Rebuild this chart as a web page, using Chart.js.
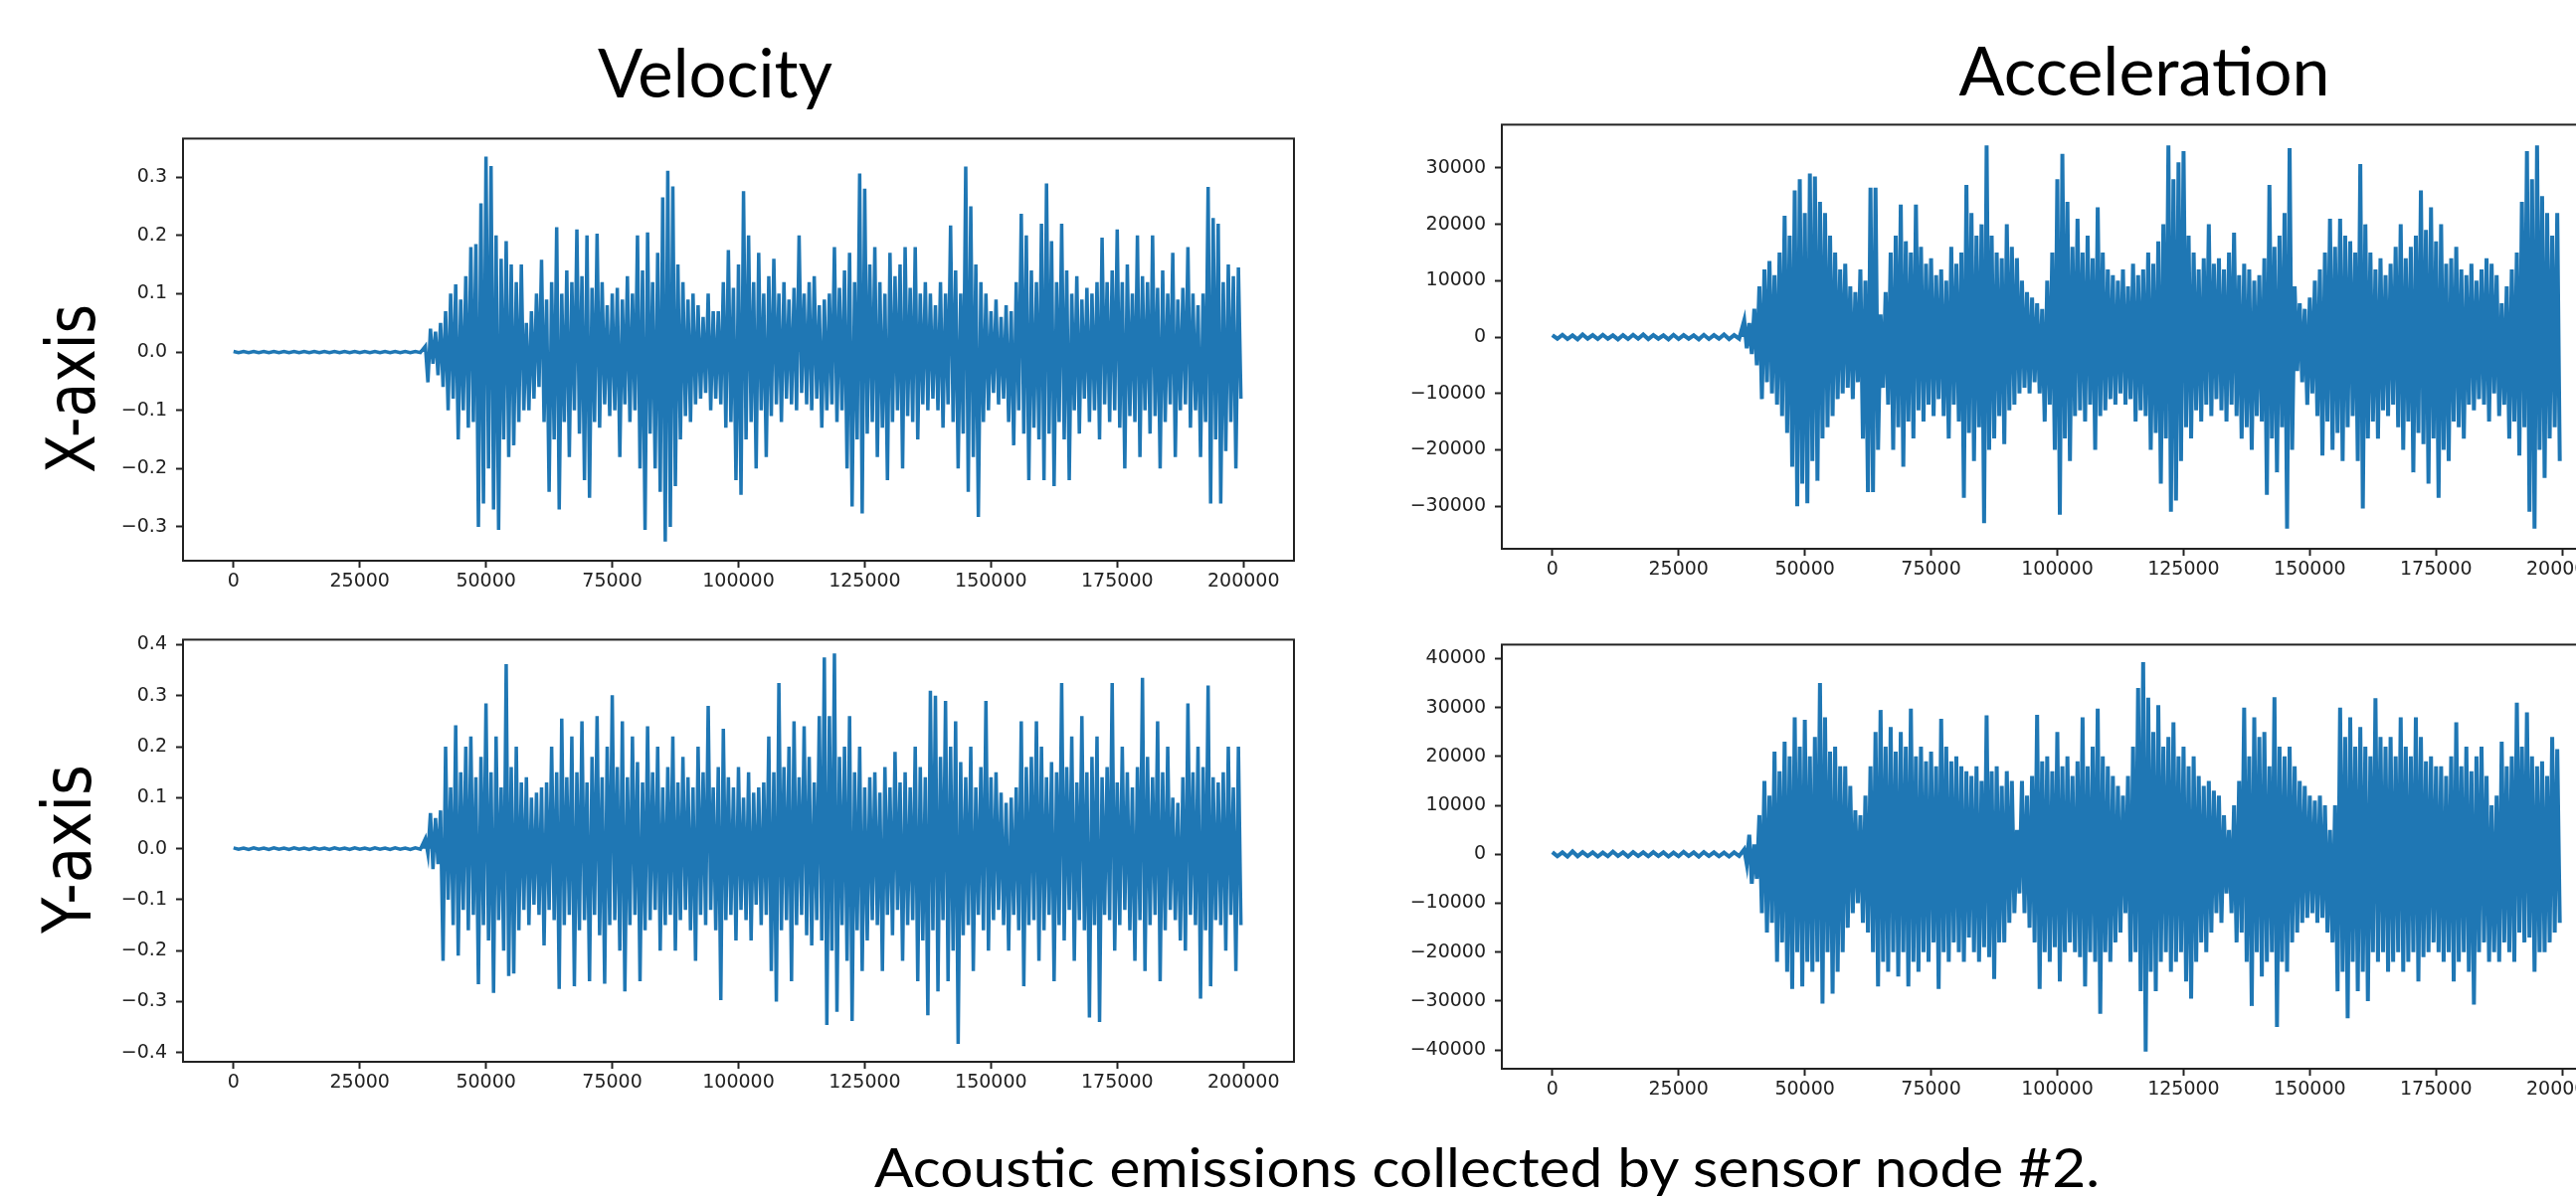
<!DOCTYPE html>
<html>
<head>
<meta charset="utf-8">
<script src="https://cdn.jsdelivr.net/npm/chart.js@4.4.1/dist/chart.umd.min.js"></script>
<style>
  html, body { margin: 0; padding: 0; background: #fff; overflow: hidden; }
  #page { position: relative; width: 2590px; height: 1204px; overflow: hidden; background: #fff; }
  .panel { position: absolute; }
  #labels { position: absolute; left: 0; top: 0; pointer-events: none; }
</style>
</head>
<body>
<div id="page">
  <div class="panel" style="left:74px; top:119px; width:1237px; height:495px;"><canvas id="velX"></canvas></div>
  <div class="panel" style="left:74px; top:623px; width:1237px; height:495px;"><canvas id="velY"></canvas></div>
  <div class="panel" style="left:1400px; top:105px; width:1237px; height:497px;"><canvas id="accX"></canvas></div>
  <div class="panel" style="left:1400px; top:628px; width:1237px; height:497px;"><canvas id="accY"></canvas></div>

  <svg id="labels" width="2590" height="1204">
    <g fill="#000" font-family="Lato">
      <text x="719" y="97.6" font-size="67" text-anchor="middle" textLength="236" lengthAdjust="spacingAndGlyphs">Velocity</text>
      <text x="2156" y="95.7" font-size="67" text-anchor="middle" textLength="373" lengthAdjust="spacingAndGlyphs">Acceleration</text>
      <text x="1495" y="1194" font-size="54" text-anchor="middle" textLength="1232" lengthAdjust="spacingAndGlyphs">Acoustic emissions collected by sensor node #2.</text>
    </g>
    <g fill="#000" font-family="DejaVu Sans" font-size="68">
      <text transform="translate(95.4 391) rotate(-90)" text-anchor="middle" textLength="170" lengthAdjust="spacingAndGlyphs">X-axis</text>
      <text transform="translate(91 854) rotate(-90)" text-anchor="middle" textLength="170" lengthAdjust="spacingAndGlyphs">Y-axis</text>
    </g>
  </svg>
</div>

<script>
// quiet part: one value every 1000 samples from 0.
// after ONSET every 1000 samples holds a local max ("high") then, 500 later, a local min ("low")
const QUIET_STEP = 1000;
const ONSET = 38000;
const PAIR_STEP = 1000;
const BLUE = '#1f77b4';
const AXIS = '#222222';

const xTicks = [0, 25000, 50000, 75000, 100000, 125000, 150000, 175000, 200000];
const velXTicks = [-0.3, -0.2, -0.1, 0.0, 0.1, 0.2, 0.3];
const velYTicks = [-0.4, -0.3, -0.2, -0.1, 0.0, 0.1, 0.2, 0.3, 0.4];
const accXTicks = [-30000, -20000, -10000, 0, 10000, 20000, 30000];
const accYTicks = [-40000, -30000, -20000, -10000, 0, 10000, 20000, 30000, 40000];

// ---- Velocity, X-axis ----
const velXQuiet = [
  0.001,-0.001,0.001,-0.001,0.001,-0.001,0.001,-0.001,0.001,-0.001,
  0.001,-0.001,0.001,-0.001,0.001,-0.001,0.001,-0.001,0.001,-0.001,
  0.001,-0.001,0.001,-0.001,0.001,-0.001,0.001,-0.001,0.001,-0.001,
  0.001,-0.001,0.001,-0.001,0.001,-0.001,0.001,-0.001
];
const velXHigh = [
  0.01,0.04,0.035,0.05,0.07,0.1,0.116,0.09,0.13,0.18,
  0.185,0.255,0.335,0.319,0.2,0.16,0.19,0.15,0.12,0.15,
  0.05,0.07,0.1,0.158,0.09,0.12,0.214,0.1,0.14,0.12,
  0.21,0.13,0.2,0.11,0.203,0.12,0.08,0.1,0.11,0.09,
  0.13,0.1,0.2,0.14,0.205,0.12,0.17,0.265,0.311,0.284,
  0.15,0.12,0.09,0.1,0.08,0.06,0.1,0.07,0.07,0.12,
  0.175,0.11,0.15,0.276,0.2,0.12,0.17,0.1,0.13,0.16,
  0.1,0.12,0.09,0.11,0.2,0.1,0.12,0.13,0.08,0.09,
  0.1,0.18,0.11,0.14,0.17,0.12,0.306,0.28,0.15,0.18,
  0.12,0.1,0.17,0.13,0.15,0.18,0.11,0.18,0.1,0.12,
  0.1,0.08,0.12,0.1,0.217,0.14,0.1,0.318,0.25,0.15,
  0.12,0.1,0.07,0.09,0.06,0.08,0.07,0.12,0.237,0.2,
  0.14,0.12,0.22,0.289,0.19,0.12,0.22,0.14,0.1,0.13,
  0.09,0.11,0.1,0.12,0.196,0.12,0.14,0.21,0.12,0.15,
  0.1,0.2,0.13,0.12,0.2,0.11,0.14,0.1,0.17,0.09,
  0.11,0.18,0.1,0.08,0.1,0.283,0.23,0.22,0.12,0.15,0.13,0.145
];
const velXLow = [
  -0.052,-0.02,-0.04,-0.06,-0.1,-0.08,-0.15,-0.1,-0.13,-0.12,
  -0.3,-0.26,-0.2,-0.27,-0.305,-0.15,-0.18,-0.16,-0.12,-0.1,
  -0.1,-0.08,-0.06,-0.12,-0.24,-0.15,-0.27,-0.12,-0.18,-0.1,
  -0.14,-0.22,-0.25,-0.12,-0.13,-0.09,-0.11,-0.1,-0.18,-0.09,
  -0.12,-0.1,-0.2,-0.305,-0.14,-0.2,-0.24,-0.325,-0.3,-0.23,
  -0.15,-0.11,-0.12,-0.09,-0.08,-0.07,-0.1,-0.08,-0.09,-0.13,
  -0.12,-0.22,-0.245,-0.15,-0.12,-0.2,-0.1,-0.18,-0.11,-0.09,
  -0.12,-0.08,-0.09,-0.1,-0.07,-0.09,-0.1,-0.08,-0.13,-0.1,
  -0.09,-0.12,-0.1,-0.2,-0.265,-0.15,-0.277,-0.14,-0.12,-0.18,
  -0.13,-0.22,-0.12,-0.1,-0.2,-0.11,-0.12,-0.15,-0.09,-0.1,
  -0.08,-0.1,-0.13,-0.09,-0.12,-0.2,-0.14,-0.24,-0.18,-0.283,
  -0.12,-0.1,-0.07,-0.09,-0.08,-0.12,-0.16,-0.1,-0.14,-0.22,
  -0.13,-0.15,-0.22,-0.14,-0.23,-0.12,-0.15,-0.22,-0.1,-0.14,
  -0.08,-0.12,-0.1,-0.15,-0.09,-0.12,-0.1,-0.13,-0.2,-0.11,
  -0.12,-0.18,-0.1,-0.14,-0.11,-0.2,-0.12,-0.09,-0.18,-0.1,
  -0.09,-0.13,-0.1,-0.18,-0.12,-0.26,-0.15,-0.26,-0.17,-0.12,-0.2,-0.08
];

// ---- Velocity, Y-axis ----
const velYQuiet = [
  0.0015,-0.001,0.001,-0.0015,0.0015,-0.001,0.001,-0.0015,0.0015,-0.001,
  0.001,-0.0015,0.0015,-0.001,0.001,-0.0015,0.0015,-0.001,0.001,-0.0015,
  0.0015,-0.001,0.001,-0.0015,0.0015,-0.001,0.001,-0.0015,0.0015,-0.001,
  0.001,-0.0015,0.0015,-0.001,0.001,-0.0015,0.0015,-0.001
];
const velYHigh = [
  0.02,0.07,0.06,0.075,0.2,0.12,0.242,0.15,0.2,0.22,
  0.14,0.18,0.285,0.15,0.22,0.12,0.362,0.16,0.2,0.13,
  0.14,0.1,0.11,0.12,0.13,0.2,0.15,0.255,0.14,0.22,
  0.15,0.25,0.13,0.18,0.26,0.14,0.2,0.301,0.16,0.25,
  0.14,0.22,0.17,0.13,0.24,0.15,0.2,0.12,0.16,0.22,
  0.13,0.18,0.14,0.12,0.2,0.15,0.28,0.12,0.16,0.235,
  0.14,0.12,0.16,0.1,0.15,0.11,0.12,0.13,0.22,0.15,
  0.325,0.16,0.2,0.25,0.14,0.24,0.18,0.13,0.26,0.375,
  0.26,0.383,0.18,0.2,0.26,0.15,0.2,0.12,0.14,0.15,
  0.11,0.16,0.12,0.19,0.13,0.15,0.12,0.2,0.16,0.14,
  0.31,0.3,0.18,0.29,0.2,0.25,0.17,0.14,0.2,0.12,
  0.16,0.29,0.14,0.15,0.11,0.09,0.1,0.12,0.25,0.16,
  0.18,0.25,0.2,0.14,0.17,0.15,0.325,0.16,0.22,0.13,
  0.26,0.15,0.18,0.22,0.14,0.16,0.325,0.13,0.2,0.15,
  0.12,0.16,0.335,0.18,0.14,0.25,0.15,0.2,0.1,0.09,
  0.14,0.285,0.15,0.2,0.16,0.32,0.14,0.13,0.15,0.2,0.12,0.2
];
const velYLow = [
  -0.01,-0.04,-0.03,-0.22,-0.1,-0.15,-0.21,-0.12,-0.16,-0.13,
  -0.266,-0.15,-0.18,-0.283,-0.14,-0.2,-0.25,-0.245,-0.16,-0.12,
  -0.15,-0.11,-0.13,-0.19,-0.12,-0.14,-0.275,-0.15,-0.13,-0.27,
  -0.16,-0.14,-0.26,-0.13,-0.17,-0.265,-0.15,-0.14,-0.2,-0.28,
  -0.15,-0.13,-0.26,-0.16,-0.14,-0.12,-0.2,-0.15,-0.13,-0.2,
  -0.14,-0.12,-0.16,-0.22,-0.13,-0.15,-0.12,-0.16,-0.297,-0.14,
  -0.13,-0.18,-0.12,-0.14,-0.18,-0.11,-0.15,-0.13,-0.24,-0.3,
  -0.16,-0.14,-0.26,-0.15,-0.13,-0.17,-0.19,-0.14,-0.18,-0.346,
  -0.2,-0.32,-0.15,-0.22,-0.338,-0.16,-0.24,-0.18,-0.14,-0.15,
  -0.24,-0.13,-0.17,-0.12,-0.22,-0.15,-0.14,-0.26,-0.18,-0.327,
  -0.16,-0.28,-0.14,-0.26,-0.2,-0.383,-0.17,-0.15,-0.24,-0.13,
  -0.16,-0.2,-0.14,-0.12,-0.15,-0.2,-0.13,-0.16,-0.27,-0.15,
  -0.14,-0.22,-0.16,-0.13,-0.26,-0.15,-0.18,-0.12,-0.22,-0.14,
  -0.16,-0.331,-0.15,-0.34,-0.13,-0.14,-0.2,-0.15,-0.12,-0.16,
  -0.22,-0.14,-0.24,-0.15,-0.13,-0.26,-0.16,-0.12,-0.14,-0.18,
  -0.2,-0.13,-0.15,-0.294,-0.16,-0.27,-0.14,-0.15,-0.2,-0.13,-0.24,-0.15
];

// ---- Acceleration, X-axis ----
const accXQuiet = [
  350,-300,400,-350,300,-400,450,-300,350,-350,
  400,-300,300,-400,350,-350,400,-300,450,-350,
  350,-300,300,-400,400,-350,350,-300,300,-400,
  400,-350,350,-300,450,-350,350,-300
];
const accXHigh = [
  3000,2500,5000,9000,12000,13500,11000,15000,21500,18000,
  26000,28000,22000,29000,28500,24000,22000,18000,15000,12000,
  13000,9000,8000,12000,10000,26500,26500,4000,8000,15000,
  18000,23500,17000,15000,23500,16000,13000,14000,11000,12000,
  10000,16000,13000,15000,27000,22000,18000,20000,34000,18000,
  15000,14000,20000,16000,14000,10000,8000,7000,6000,5000,
  10000,15000,28000,32500,24000,16000,21000,15000,18000,14000,
  23000,15000,12000,11000,10000,12000,9000,13000,11000,12000,
  15000,13000,17000,20000,34000,28000,31000,33000,18000,15000,
  12000,14000,20000,13000,14000,12000,15000,18500,11000,13000,
  12000,10000,11000,14000,27000,16000,18000,22000,33500,9000,
  6000,5000,7000,10000,12000,15000,21000,16000,21000,18000,
  17000,15000,30700,20000,15000,12000,14000,11000,13000,16000,
  20000,14000,16000,18000,26000,19000,23000,17000,20000,13000,
  14000,16000,12000,11000,13000,10000,12000,14000,13000,11000,
  6000,9000,12000,15000,24000,33000,28000,34000,25000,22000,18000,22000
];
const accXLow = [
  -2000,-3000,-5000,-11000,-8000,-10000,-12000,-14000,-17000,-23000,
  -30000,-26000,-29500,-22000,-25500,-18000,-16000,-14000,-11000,-10000,
  -9000,-11000,-8000,-18000,-27500,-27500,-20000,-9000,-12000,-20000,
  -16000,-23000,-15000,-18000,-13000,-15000,-12000,-14000,-11000,-14000,
  -18000,-12000,-15000,-28500,-17000,-22000,-16000,-33000,-20000,-18000,
  -14000,-19000,-13000,-12000,-10000,-9000,-10000,-8000,-10000,-15000,
  -12000,-20000,-31500,-18000,-22000,-14000,-13000,-15000,-12000,-20000,
  -14000,-13000,-11000,-12000,-10000,-12000,-11000,-15000,-13000,-14000,
  -20000,-17000,-26000,-18000,-31000,-29000,-22000,-16000,-18000,-13000,
  -15000,-12000,-14000,-11000,-13000,-15000,-12000,-14000,-18000,-16000,
  -20000,-14000,-15000,-28000,-18000,-24000,-16000,-34000,-20000,-6000,
  -8000,-12000,-10000,-14000,-21000,-15000,-20000,-17000,-22000,-16000,
  -14000,-22000,-30400,-18000,-15000,-18000,-13000,-14000,-12000,-16000,
  -20000,-15000,-24000,-17000,-19000,-26000,-18000,-28500,-20000,-22000,
  -15000,-16000,-18000,-12000,-13000,-11000,-12000,-15000,-10000,-14000,
  -12000,-18000,-15000,-21000,-16000,-31000,-34000,-20000,-25000,-18000,-16000,-22000
];

// ---- Acceleration, Y-axis ----
const accYQuiet = [
  450,-400,400,-450,600,-400,450,-350,400,-450,
  350,-400,550,-350,400,-450,450,-350,400,-400,
  450,-350,400,-450,350,-400,500,-350,400,-450,
  450,-350,400,-400,350,-450,400,-350
];
const accYHigh = [
  1000,4000,2000,8000,15000,12000,21000,17000,23000,20000,
  28000,22000,27500,20000,24000,35000,28000,21000,22000,18000,
  18000,14000,9000,8000,12000,18000,25000,29500,22000,26000,
  21000,25000,22000,29800,20000,22000,19000,21000,18000,27700,
  22000,19000,20000,18000,17000,16000,18000,15000,28400,17000,
  18000,14000,17000,15000,5000,15000,12000,16000,28500,19000,
  20000,17000,25000,18000,20000,16000,19000,28000,18000,22000,
  29800,20000,18000,16000,14000,12000,16000,22000,34000,39300,
  32000,25000,30500,22000,24000,27000,20000,22000,18000,20000,
  16000,14000,15000,13000,12000,8000,5000,10000,15000,30000,
  20000,28000,24000,25000,18000,32100,22000,20000,22000,18000,
  15000,14000,12000,11000,12000,10000,5000,10000,30000,24000,
  28000,22000,26000,22000,20000,31900,24000,22000,24000,20000,
  28000,22000,20000,28000,24000,19000,20000,18000,18000,16000,
  20000,27000,18000,22000,17000,20000,22000,16000,10000,12000,
  23000,18000,20000,31000,22000,29000,20000,18000,19000,16000,24000,21500
];
const accYLow = [
  -2000,-6000,-5000,-12000,-16000,-14000,-22000,-18000,-24000,-27500,
  -20000,-27000,-22000,-24000,-22000,-30500,-20000,-28500,-24000,-20000,
  -15000,-12000,-10000,-14000,-16000,-20000,-27000,-22000,-24000,-20000,
  -25000,-20000,-27000,-22000,-24000,-20000,-22000,-18000,-27500,-20000,
  -22000,-18000,-20000,-22000,-17000,-20000,-22000,-19000,-21000,-25500,
  -18000,-18000,-14000,-12000,-8000,-12000,-15000,-18000,-27500,-20000,
  -22000,-19000,-26000,-20000,-18000,-20000,-21000,-27000,-20000,-22000,
  -32600,-20000,-22000,-18000,-16000,-12000,-22000,-20000,-28000,-40300,
  -24000,-28000,-22000,-20000,-24000,-22000,-20000,-26000,-29500,-22000,
  -18000,-20000,-16000,-12000,-14000,-8000,-12000,-18000,-16000,-22000,
  -31000,-20000,-25000,-22000,-20000,-35300,-22000,-24000,-18000,-16000,
  -14000,-13000,-12000,-14000,-13000,-16000,-18000,-28000,-24000,-33500,
  -22000,-28000,-24000,-30000,-20000,-22000,-20000,-24000,-22000,-20000,
  -24000,-22000,-20000,-26000,-21000,-20000,-18000,-20000,-22000,-20000,
  -26000,-22000,-20000,-24000,-30700,-20000,-18000,-22000,-20000,-22000,
  -18000,-20000,-22000,-16000,-18000,-17000,-24000,-20000,-20000,-18000,-16000,-14000
];

// turn the arrays into the {x, y} list Chart.js draws
function signal(quiet, high, low) {
  const pts = quiet.map((v, i) => ({ x: i * QUIET_STEP, y: v }));
  high.forEach((h, k) => {
    pts.push({ x: ONSET + k * PAIR_STEP, y: h });
    pts.push({ x: ONSET + k * PAIR_STEP + PAIR_STEP / 2, y: low[k] });
  });
  return pts;
}

const minus = s => s.replace('-', '\u2212');
const fmtVel = v => minus(Number(v).toFixed(1));
const fmtAcc = v => minus(String(Math.round(v)));

// box round the plot area, like matplotlib spines
const frame = {
  id: 'frame',
  afterDatasetsDraw(chart) {
    const { ctx, chartArea: a } = chart;
    ctx.save();
    ctx.strokeStyle = AXIS;
    ctx.lineWidth = 2;
    ctx.strokeRect(a.left, a.top, a.right - a.left, a.bottom - a.top);
    ctx.restore();
  }
};

const tickFont = { family: 'DejaVu Sans', size: 19 };

function makePanel(id, quiet, high, low, yTicks, yMin, yMax, fmt, lineW) {
  return new Chart(document.getElementById(id), {
    type: 'line',
    data: {
      datasets: [{
        data: signal(quiet, high, low),
        borderColor: BLUE,
        backgroundColor: BLUE,
        borderWidth: lineW,
        pointRadius: 0,
        // the trace is far denser than a pixel; filling to zero keeps the core solid as in the figure
        fill: 'origin',
        tension: 0
      }]
    },
    options: {
      responsive: true,
      maintainAspectRatio: false,
      animation: false,
      layout: { padding: { top: 10, right: 10, left: 0, bottom: 0 } },
      plugins: { legend: { display: false }, tooltip: { enabled: false } },
      scales: {
        x: {
          type: 'linear',
          min: -10000,
          max: 210000,
          afterBuildTicks: s => { s.ticks = xTicks.map(v => ({ value: v })); },
          afterFit: s => { s.height = 50; },
          ticks: { font: tickFont, color: AXIS, padding: 3, maxRotation: 0, autoSkip: false, callback: v => String(v) },
          grid: { drawOnChartArea: false, drawTicks: true, tickLength: 7, tickWidth: 2, tickColor: AXIS },
          border: { display: false }
        },
        y: {
          type: 'linear',
          min: yMin,
          max: yMax,
          afterBuildTicks: s => { s.ticks = yTicks.map(v => ({ value: v })); },
          afterFit: s => { s.width = 110; },
          ticks: { font: tickFont, color: AXIS, padding: 9, autoSkip: false, callback: fmt },
          grid: { drawOnChartArea: false, drawTicks: true, tickLength: 7, tickWidth: 2, tickColor: AXIS },
          border: { display: false }
        }
      }
    },
    plugins: [frame]
  });
}

makePanel('velX', velXQuiet, velXHigh, velXLow, velXTicks, -0.358, 0.366, fmtVel, 3.5);
makePanel('velY', velYQuiet, velYHigh, velYLow, velYTicks, -0.418, 0.410, fmtVel, 3.5);
makePanel('accX', accXQuiet, accXHigh, accXLow, accXTicks, -37560, 37680, fmtAcc, 4);
makePanel('accY', accYQuiet, accYHigh, accYLow, accYTicks, -43830, 42860, fmtAcc, 4);
</script>
</body>
</html>
